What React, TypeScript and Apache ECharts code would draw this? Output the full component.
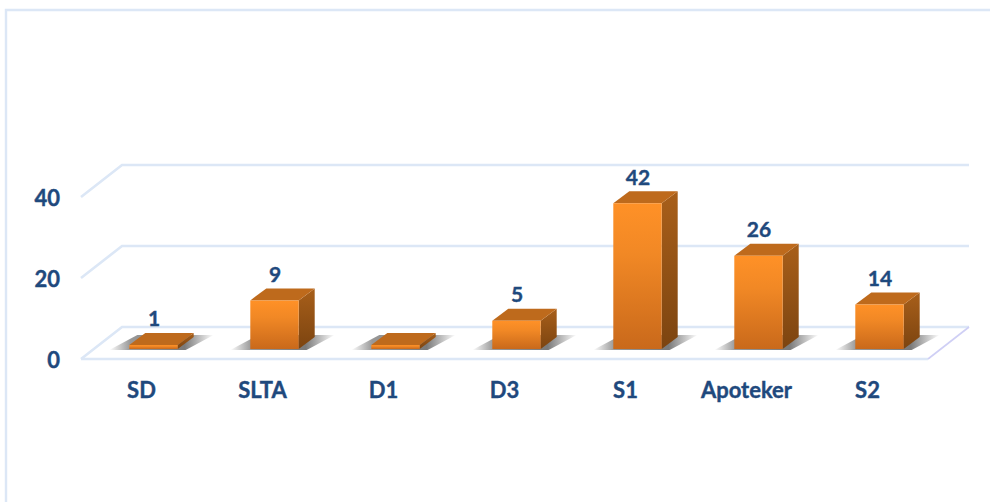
import React, { useEffect, useRef } from "react";
import * as echarts from "echarts";

const categories = ["SD", "SLTA", "D1", "D3", "S1", "Apoteker", "S2"];
const barHeights = [1, 12, 1, 7, 36, 23, 11];
const barLabels = ["1", "9", "", "5", "42", "26", "14"];
const yTicks = [0, 20, 40];

const FONT = "Lato, 'Open Sans', sans-serif";
const TEXT = "#1F497D";
const GRID = "#DCE7F6";
const BAR_FRAC = 0.4;
const OFF = { x: 12, y: -10 };
const DEPTH = { x: 16, y: -12 };
const BACK = { x: 41, y: -32 };

function renderGrid(params: any, api: any) {
  const v = api.value(1);
  const band = api.size([1, 0])[0];
  const p = api.coord([0, v]);
  const left = p[0] - band / 2;
  const right = left + band * categories.length;
  const y = p[1];
  const children: any[] = [];
  children.push({
    type: "polyline",
    shape: { points: [[left, y], [left + BACK.x, y + BACK.y], [right + BACK.x, y + BACK.y]] },
    style: { stroke: GRID, lineWidth: 2.6, fill: "none" },
  });
  if (v === 0) {
    children.push({
      type: "line",
      shape: { x1: left, y1: y, x2: right, y2: y },
      style: { stroke: GRID, lineWidth: 2.6 },
    });
    children.push({
      type: "line",
      shape: { x1: right, y1: y, x2: right + BACK.x, y2: y + BACK.y },
      style: { stroke: "#CFCFF5", lineWidth: 1.6 },
    });
  }
  return { type: "group", children };
}

function renderBar(params: any, api: any) {
  const i = api.value(0);
  const h = api.value(1);
  const c = api.coord([i, h]);
  const z = api.coord([i, 0]);
  const w = api.size([1, 0])[0] * BAR_FRAC;
  const l = c[0] - w / 2 + OFF.x;
  const r = l + w;
  const t = c[1] + OFF.y;
  const b = z[1] + OFF.y;
  const dx = DEPTH.x;
  const dy = DEPTH.y;
  const label = barLabels[i];
  const children: any[] = [
    {
      type: "polygon",
      shape: { points: [[l - 20, b + 1], [r + 8, b + 1], [r + dx + 20, b + dy - 2], [l + dx - 8, b + dy - 2]] },
      style: {
        fill: new echarts.graphic.LinearGradient(0, 0, 1, 0, [
          { offset: 0, color: "rgba(50,50,50,0)" },
          { offset: 0.2, color: "rgba(50,50,50,0.5)" },
          { offset: 0.72, color: "rgba(50,50,50,0.65)" },
          { offset: 1, color: "rgba(50,50,50,0)" },
        ]),
      },
    },
    {
      type: "polygon",
      shape: { points: [[r, t], [r + dx, t + dy], [r + dx, b + dy], [r, b]] },
      style: {
        fill: new echarts.graphic.LinearGradient(0, 0, 0, 1, [
          { offset: 0, color: "#A85F1A" },
          { offset: 1, color: "#7C4410" },
        ]),
      },
    },
    {
      type: "polygon",
      shape: { points: [[l, t], [l + dx, t + dy], [r + dx, t + dy], [r, t]] },
      style: { fill: "#BE6A1C" },
    },
    {
      type: "rect",
      shape: { x: l, y: t, width: w, height: b - t },
      style: {
        fill: new echarts.graphic.LinearGradient(0, 0, 0, 1, [
          { offset: 0, color: "#FF9127" },
          { offset: 0.35, color: "#F18825" },
          { offset: 1, color: "#C9691B" },
        ]),
      },
    },
  ];
  if (label) {
    children.push({
      type: "text",
      style: {
        x: (l + r) / 2 + 0.5,
        y: t + dy - 15,
        text: label,
        fill: TEXT,
        stroke: TEXT,
        lineWidth: 0.4,
        font: `bold 21px ${FONT}`,
        align: "center",
        verticalAlign: "middle",
      },
    });
  }
  return { type: "group", children };
}

export default function App() {
  const ref = useRef<HTMLDivElement>(null);
  useEffect(() => {
    const chart = echarts.init(ref.current!, undefined, { renderer: "svg" });
    chart.setOption({
      animation: false,
      backgroundColor: "#fff",
      graphic: [
        {
          type: "polyline",
          silent: true,
          shape: { points: [[6, 502], [6, 10], [990, 10]] },
          style: { stroke: GRID, lineWidth: 2.4, fill: "none" },
        },
      ],
      grid: { left: 81, right: 62, top: 197, bottom: 143 },
      xAxis: {
        type: "category",
        data: categories,
        axisLine: { show: false },
        axisTick: { show: false },
        splitLine: { show: false },
        axisLabel: {
          color: TEXT,
          fontFamily: FONT,
          fontWeight: "bold",
          fontSize: 22,
          margin: 19,
          interval: 0,
          textBorderColor: TEXT,
          textBorderWidth: 0.4,
        },
      },
      yAxis: {
        type: "value",
        min: 0,
        max: 40,
        interval: 20,
        axisLine: { show: false },
        axisTick: { show: false },
        splitLine: { show: false },
        axisLabel: {
          color: TEXT,
          fontFamily: FONT,
          fontWeight: "bold",
          fontSize: 22,
          margin: 21,
          textBorderColor: TEXT,
          textBorderWidth: 0.4,
        },
      },
      series: [
        {
          type: "custom",
          clip: false,
          silent: true,
          z: 1,
          renderItem: renderGrid,
          encode: { x: 0, y: 1 },
          data: yTicks.map((v) => [0, v]),
        },
        {
          type: "custom",
          clip: false,
          silent: true,
          z: 2,
          renderItem: renderBar,
          encode: { x: 0, y: 1 },
          data: barHeights.map((h, i) => [i, h]),
        },
      ],
    });
    return () => chart.dispose();
  }, []);
  return (
    <div
      ref={ref}
      style={{ position: "absolute", left: 0, top: 0, width: 990, height: 502 }}
    />
  );
}
